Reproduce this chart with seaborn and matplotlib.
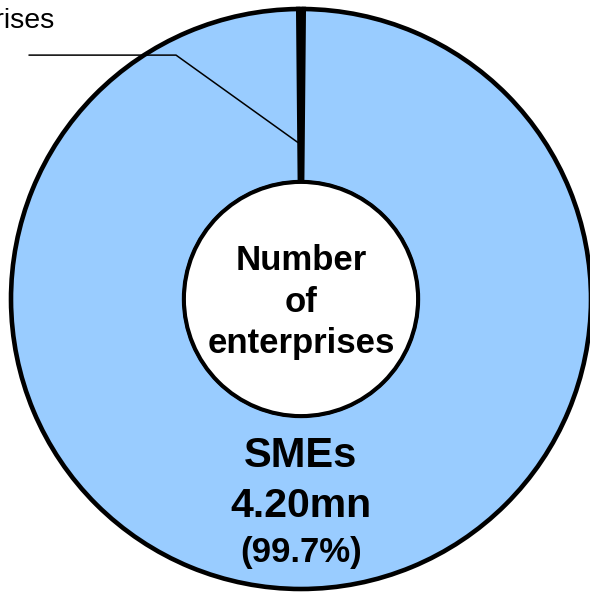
import numpy as np
import matplotlib
matplotlib.use("Agg")
import matplotlib.pyplot as plt
import seaborn as sns

# Share of enterprises by size class (%)
segments = ["Large enterprises", "SMEs"]
shares = [0.3, 99.7]
counts_mn = [None, 4.20]
colors = ["#000000", "#99CCFF"]

center_title = ["Number", "of", "enterprises"]

sns.set_theme(style="white")
plt.rcParams["font.family"] = ["Liberation Sans", "DejaVu Sans"]

fig = plt.figure(figsize=(5.90, 5.93), dpi=100)
ax = fig.add_axes([0, 0, 1, 1])

inner_r = 0.403
half_small = shares[0] / sum(shares) * 360 / 2
wedges, _ = ax.pie(
    shares,
    colors=colors,
    startangle=90 + half_small,
    counterclock=False,
    radius=1.0,
    wedgeprops=dict(width=1 - inner_r, edgecolor="black", linewidth=3.3),
)

# white hole with outline
hole = plt.Circle((0, 0), inner_r, facecolor="white", edgecolor="black",
                  linewidth=2.6, zorder=3)
ax.add_patch(hole)

# center title
bold = dict(ha="center", va="baseline", fontweight="bold", color="black", zorder=4)
for line, y in zip(center_title, [0.10, -0.045, -0.186]):
    ax.text(0, y, line, fontsize=25, **bold)

# SME label
ax.text(0, -0.579, segments[1], fontsize=30, **bold)
ax.text(0, -0.752, f"{counts_mn[1]:.2f}mn", fontsize=29.5, **bold)
ax.text(0, -0.907, f"({shares[1]:.1f}%)", fontsize=25, **bold)

# leader line to the large-enterprise slice
ang = np.deg2rad(90 + half_small)
r_tip = 0.54
tip = (r_tip * np.cos(ang) - 0.006, r_tip * np.sin(ang))
ax.plot([-0.938, -0.431, tip[0]], [0.841, 0.841, tip[1]],
        color="black", linewidth=1.1, zorder=5, solid_joinstyle="miter")
ax.text(-0.852, 0.934, segments[0], fontsize=20.5, ha="right", va="baseline",
        color="black", zorder=5)

ax.set_xlim(-301 / 290, 289 / 290)
ax.set_ylim(-294 / 290, 299 / 290)
ax.set_aspect("auto")
ax.axis("off")

fig.savefig("out.png", dpi=100, facecolor="white")
